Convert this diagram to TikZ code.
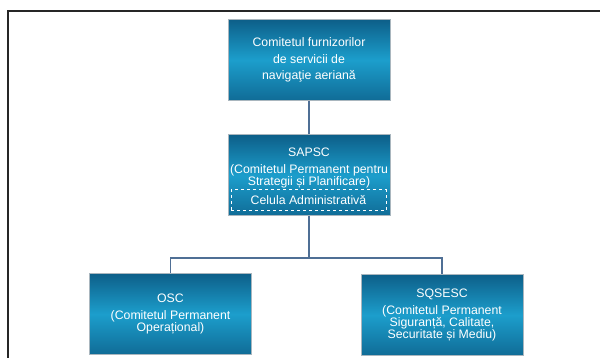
\documentclass[tikz,border=0pt]{standalone}
\usepackage{fontspec}
\setmainfont{Liberation Sans}
\usetikzlibrary{positioning}
\definecolor{boxtop}{HTML}{0D5F89}
\definecolor{boxmid}{HTML}{1C9ECC}
\definecolor{boxedge}{HTML}{A9B6BE}
\definecolor{linkblue}{HTML}{4F6F95}
\tikzset{
  unitbox/.style={draw=boxedge, line width=1pt, top color=boxtop, bottom color=boxtop!80!boxmid, middle color=boxmid,
    minimum width=162pt, minimum height=81pt, inner sep=0pt, text=white, align=center,
    font=\fontsize{12.3}{12}\selectfont},
  boxtext/.style={text=white, align=center, inner sep=0pt, font=\fontsize{12.3}{12}\selectfont},
  link/.style={draw=linkblue, line width=1.3pt},
}
\begin{document}
\begin{tikzpicture}[x=1pt, y=-1pt]
        \useasboundingbox (0,0) rectangle (600,358);
        % page frame
        \draw[line width=1.8pt, black!85] (8,358) -- (8,11) -- (600,11);

        % committee boxes
        \node[unitbox] (comitet) at (309,60) {Comitetul furnizorilor\\[4.7pt]de servicii de\\[4.7pt]navigaţie aeriană};
        \node[unitbox] (sapsc) at (309,175.5) {};
        \node[boxtext] (sapsctitle) at (309,152) {SAPSC};
        \node[boxtext] (sapscname) at (309,176) {(Comitetul Permanent pentru\\Strategii și Planificare)};
        \node[boxtext, draw=white, dashed, line width=1pt, minimum width=155pt, minimum height=21pt] (celula) at (308.5,200.5) {Celula Administrativă};
        \node[unitbox] (osc) at (170.5,314) {OSC\\[5pt](Comitetul Permanent\\Operațional)};
        \node[unitbox] (sqsesc) at (442,315) {SQSESC\\[5pt](Comitetul Permanent\\Siguranță, Calitate,\\Securitate și Mediu)};

        % connectors
        \coordinate (bus) at (309,258);
        \draw[link] (comitet.south) -- (sapsc.north);
        \draw[link] (sapsc.south) -- (bus);
        \draw[link] (bus) -| (osc.north);
        \draw[link] (bus) -| (sqsesc.north);
\end{tikzpicture}
\end{document}
